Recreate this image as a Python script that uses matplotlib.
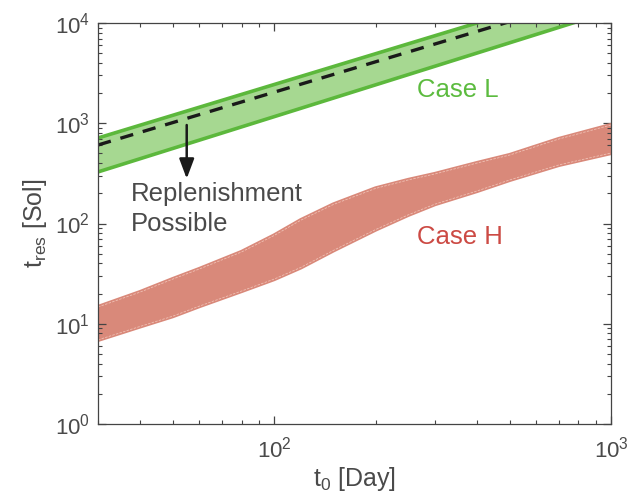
import matplotlib
matplotlib.use("Agg")
import matplotlib.pyplot as plt
from matplotlib.ticker import LogLocator, NullFormatter

plt.rcParams['font.family'] = ['Liberation Sans', 'DejaVu Sans']
plt.rcParams['mathtext.fontset'] = 'custom'
plt.rcParams['mathtext.rm'] = 'Liberation Sans'
plt.rcParams['mathtext.it'] = 'Liberation Sans'

# Case L band (straight in log-log)
l_x = [30, 1000]
l_upper = [713, 25500]
l_lower = [327, 13180]
l_mid = [607, 20760]

# Case H band
h_x = [30, 40, 50, 60, 80, 100, 120, 150, 200, 250, 300, 400, 500, 700, 1000]
h_upper = [14.7, 20.7, 27.9, 35.2, 52.0, 76.0, 108, 155, 224, 272, 312, 401, 482, 697, 961]
h_lower = [6.9, 9.4, 11.9, 15.0, 21.2, 27.9, 36.5, 54.0, 87.0, 122, 156, 211, 272, 384, 505]

green_fill = '#a6d891'
green_edge = '#5cb83c'
red_fill = '#d9897a'
red_line = '#f0c0b4'
txt = '#4a4a4a'

fig = plt.figure(figsize=(6.3, 4.98), dpi=100)
ax = fig.add_axes([0.1556, 0.1486, 0.8144, 0.8052])

ax.fill_between(h_x, h_lower, h_upper, color=red_fill, lw=0)
ax.plot(h_x, h_upper, color=red_fill, lw=3, solid_joinstyle='round')
ax.plot(h_x, h_lower, color=red_fill, lw=3, solid_joinstyle='round')
ax.plot(h_x, h_upper, color=red_line, lw=0.6, ls=(0, (3, 1.5)))
ax.plot(h_x, h_lower, color=red_line, lw=0.6, ls=(0, (3, 1.5)))

ax.fill_between(l_x, l_lower, l_upper, color=green_fill, lw=0)
ax.plot(l_x, l_upper, color=green_edge, lw=2.6)
ax.plot(l_x, l_lower, color=green_edge, lw=2.6)
ax.plot(l_x, l_mid, color='#1a1a1a', lw=2.4, ls=(0, (4, 3)))

ax.annotate('', xy=(55, 280), xytext=(55, 960),
            arrowprops=dict(arrowstyle='-|>,head_width=0.45,head_length=1.2',
                            color='#1a1a1a', lw=1.8, shrinkA=0, shrinkB=0))
ax.text(37.5, 258, 'Replenishment\nPossible', fontsize=18.5, color=txt,
        va='top', ha='left', linespacing=1.3)
ax.text(265, 2150, 'Case L', fontsize=18.5, color='#5cbb3f', va='center')
ax.text(265, 73, 'Case H', fontsize=18.5, color='#cc4a44', va='center')

ax.set_xscale('log')
ax.set_yscale('log')
ax.set_xlim(30, 1000)
ax.set_ylim(1, 1e4)
ax.yaxis.set_major_locator(LogLocator(base=10, numticks=10))
ax.yaxis.set_minor_locator(LogLocator(base=10, subs=range(2, 10), numticks=10))
ax.xaxis.set_minor_formatter(NullFormatter())

ax.tick_params(which='both', direction='in', top=True, right=True,
               colors='#444444', labelcolor=txt, labelsize=16)
ax.tick_params(which='major', length=6, width=0.9)
ax.tick_params(which='minor', length=3, width=0.8)
ax.tick_params(axis='x', which='major', pad=9)
ax.tick_params(axis='y', which='major', pad=6)
for s in ax.spines.values():
    s.set_color('#444444')
    s.set_linewidth(0.9)

ax.set_xlabel(r'$\mathregular{t_0}$ [Day]', fontsize=18, color=txt, labelpad=2)
ax.set_ylabel(r'$\mathregular{t_{res}}$ [Sol]', fontsize=18, color=txt, labelpad=4)

fig.savefig('out.png', dpi=100)
